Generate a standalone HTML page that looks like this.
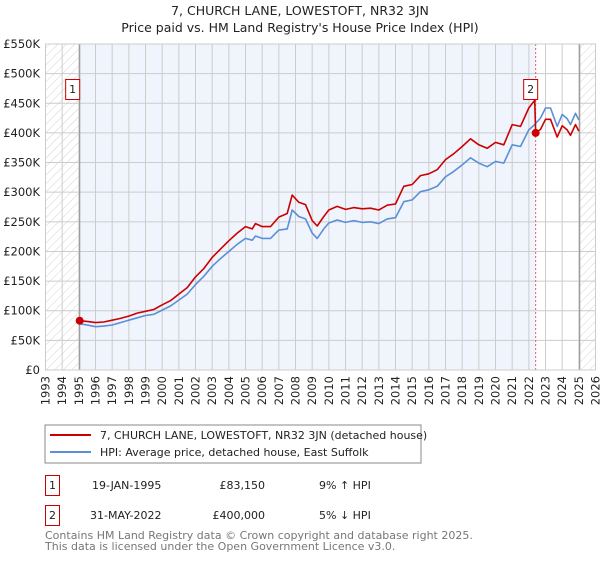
<!DOCTYPE html>
<html><head><meta charset="utf-8"><style>
body{margin:0;background:#fff;font-family:"DejaVu Sans","Liberation Sans",sans-serif;}
svg text{font-family:"DejaVu Sans","Liberation Sans",sans-serif;}
</style></head><body>
<svg id="chart" width="600" height="560" viewBox="0 0 600 560" xmlns="http://www.w3.org/2000/svg">
<defs>
<pattern id="hatch" width="6" height="6" patternUnits="userSpaceOnUse" patternTransform="rotate(45)">
<line x1="0" y1="0" x2="0" y2="6" stroke="#c8c8c8" stroke-width="0.8"/>
</pattern>
</defs>
<text x="300" y="15" text-anchor="middle" font-size="12.5" fill="#222">7, CHURCH LANE, LOWESTOFT, NR32 3JN</text>
<text x="300" y="32" text-anchor="middle" font-size="12.5" fill="#222">Price paid vs. HM Land Registry's House Price Index (HPI)</text>
<g id="plot"></g>
<g>
<rect x="45" y="425" width="376" height="38" fill="#fff" stroke="#888"/>
<line x1="50" y1="435" x2="91" y2="435" stroke="#cc0000" stroke-width="2"/>
<text x="100" y="439" font-size="11" fill="#222">7, CHURCH LANE, LOWESTOFT, NR32 3JN (detached house)</text>
<line x1="50" y1="452" x2="91" y2="452" stroke="#5b8fd6" stroke-width="2"/>
<text x="100" y="456" font-size="11" fill="#222">HPI: Average price, detached house, East Suffolk</text>
</g>
<g font-size="11" fill="#222">
<rect x="45.5" y="475.5" width="14" height="20" fill="#fff" stroke="#cc0000"/>
<text x="52.5" y="489" text-anchor="middle">1</text>
<text x="92" y="489">19-JAN-1995</text>
<text x="265" y="489" text-anchor="end">£83,150</text>
<text x="319" y="489">9% ↑ HPI</text>
</g>
<g font-size="11" fill="#222">
<rect x="45.5" y="505.5" width="14" height="20" fill="#fff" stroke="#cc0000"/>
<text x="52.5" y="519" text-anchor="middle">2</text>
<text x="90" y="519">31-MAY-2022</text>
<text x="265" y="519" text-anchor="end">£400,000</text>
<text x="319" y="519">5% ↓ HPI</text>
</g>
<text x="45" y="539" font-size="11" fill="#777">Contains HM Land Registry data © Crown copyright and database right 2025.</text>
<text x="45" y="550" font-size="11" fill="#777">This data is licensed under the Open Government Licence v3.0.</text>
</svg>
<script>
const hpiYears=[1995.05,1995.5,1996,1996.5,1997,1997.5,1998,1998.5,1999,1999.5,2000,2000.5,2001,2001.5,2002,2002.5,2003,2003.5,2004,2004.5,2005,2005.4,2005.6,2006,2006.5,2007,2007.5,2007.8,2008.2,2008.6,2009,2009.3,2009.7,2010,2010.5,2011,2011.5,2012,2012.5,2013,2013.5,2014,2014.5,2015,2015.5,2016,2016.5,2017,2017.5,2018,2018.5,2019,2019.5,2020,2020.5,2021,2021.5,2022,2022.35,2022.41,2022.7,2023,2023.3,2023.7,2024,2024.3,2024.5,2024.8,2025];
const hpiValues=[78,76,73,74,76,80,84,88,92,94,101,108,118,128,144,158,175,188,200,212,222,219,226,222,222,236,238,270,259,255,231,222,238,248,253,249,252,249,250,247,255,257,284,287,301,304,310,326,335,346,358,349,343,352,349,380,377,405,414,416,425,442,442,411,431,424,414,433,422];
const redYears=[1995.05,1995.5,1996,1996.5,1997,1997.5,1998,1998.5,1999,1999.5,2000,2000.5,2001,2001.5,2002,2002.5,2003,2003.5,2004,2004.5,2005,2005.4,2005.6,2006,2006.5,2007,2007.5,2007.8,2008.2,2008.6,2009,2009.3,2009.7,2010,2010.5,2011,2011.5,2012,2012.5,2013,2013.5,2014,2014.5,2015,2015.5,2016,2016.5,2017,2017.5,2018,2018.5,2019,2019.5,2020,2020.5,2021,2021.5,2022,2022.35,2022.41,2022.7,2023,2023.3,2023.7,2024,2024.3,2024.5,2024.8,2025];
const redValues=[83,82,80,81,84,87,91,96,99,102,110,117,128,139,157,171,190,204,218,231,242,238,247,242,242,258,264,295,283,279,252,243,259,270,276,271,274,272,273,270,278,280,310,313,328,331,338,355,365,377,390,380,374,384,380,414,411,442,455,400,406,423,423,393,412,405,396,414,403];
const sales=[{year:1995.05,value:83.15,label:"1"},{year:2022.41,value:400,label:"2"}];
const yTicks=[0,50,100,150,200,250,300,350,400,450,500,550];
const yTickLabels=["£0","£50K","£100K","£150K","£200K","£250K","£300K","£350K","£400K","£450K","£500K","£550K"];
const xTicks=[1993,1994,1995,1996,1997,1998,1999,2000,2001,2002,2003,2004,2005,2006,2007,2008,2009,2010,2011,2012,2013,2014,2015,2016,2017,2018,2019,2020,2021,2022,2023,2024,2025,2026];

const X0=45.5,X1=595.5,Y0=370,Y1=44;
const xs=y=>X0+(y-1993)/(2026-1993)*(X1-X0);
const ys=v=>Y0-v/550*(Y0-Y1);
const NS="http://www.w3.org/2000/svg";
const g=document.getElementById('plot');
function mk(tag,attrs,parent){const e=document.createElementNS(NS,tag);for(const k in attrs)e.setAttribute(k,attrs[k]);(parent||g).appendChild(e);return e;}
let e;
e=mk('rect',{x:X0,y:Y1,width:X1-X0,height:Y0-Y1,fill:'#fff'});


e=mk('rect',{x:xs(1995.05),y:Y1,width:xs(2022.41)-xs(1995.05),height:Y0-Y1,fill:'#f0f4fd'});


e=mk('rect',{x:X0,y:Y1,width:xs(1995.05)-X0,height:Y0-Y1,fill:'url(#hatch)'});


e=mk('rect',{x:xs(2025.05),y:Y1,width:X1-xs(2025.05),height:Y0-Y1,fill:'url(#hatch)'});


xTicks.forEach((t,i)=>{
  const l=mk('line',{x1:xs(t),x2:xs(t),y1:Y1,y2:Y0,stroke:'#cccccc','stroke-width':1});
  
  
  const tx=mk('text',{x:0,y:0,'font-size':11.5,fill:'#222','text-anchor':'end',transform:`translate(${xs(t)+4},${Y0+6}) rotate(-90)`});
  tx.textContent=t;
  
  
});
yTicks.forEach((t,i)=>{
  const l=mk('line',{x1:X0,x2:X1,y1:ys(t),y2:ys(t),stroke:'#cccccc','stroke-width':1});
  
  
  const tx=mk('text',{x:40,y:ys(t)+4,'font-size':11.5,fill:'#222','text-anchor':'end'});
  tx.textContent=yTickLabels[i];
  
  
});
e=mk('line',{x1:xs(1995.05),x2:xs(1995.05),y1:Y1,y2:Y0,stroke:'#999','stroke-width':1.2});


e=mk('line',{x1:xs(2022.41),x2:xs(2022.41),y1:Y1,y2:Y0,stroke:'#e06060','stroke-width':1,'stroke-dasharray':'2,2'});


e=mk('line',{x1:xs(2025.05),x2:xs(2025.05),y1:Y1,y2:Y0,stroke:'#999','stroke-width':1.2});


e=mk('rect',{x:X0,y:Y1,width:X1-X0,height:Y0-Y1,fill:'none',stroke:'#ccc'});


function path(xsArr,vals){return xsArr.map((y,i)=>(i?'L':'M')+xs(y).toFixed(1)+','+ys(vals[i]).toFixed(1)).join(' ');}
e=mk('path',{d:path(hpiYears,hpiValues),fill:'none',stroke:'#5b8fd6','stroke-width':1.6,'stroke-linejoin':'round'});


e=mk('path',{d:path(redYears,redValues),fill:'none',stroke:'#cc0000','stroke-width':1.6,'stroke-linejoin':'round'});


sales.forEach(s=>{
  const c=mk('circle',{cx:xs(s.year),cy:ys(s.value),r:4,fill:'#cc0000'});
  
  
  const bx=xs(s.year)-5-(s.label==="1"?2:0);
  const r=mk('rect',{x:bx-7,y:79.5,width:14,height:20,fill:'#fff',stroke:'#cc0000'});
  
  
  const t=mk('text',{x:bx,y:93,'font-size':11,'text-anchor':'middle',fill:'#222'});
  t.textContent=s.label;
  
  
});
</script>
</body></html>
